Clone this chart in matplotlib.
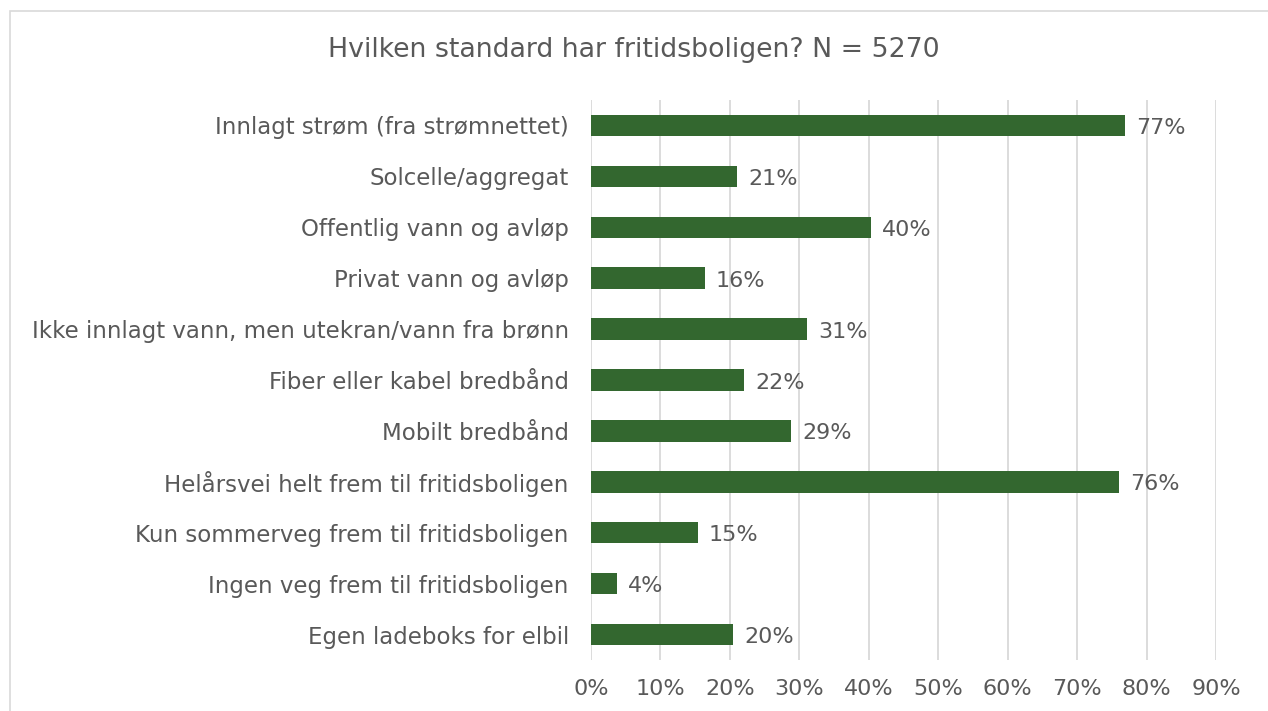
import matplotlib.pyplot as plt
from matplotlib.patches import Rectangle

categories = [
    "Innlagt strøm (fra strømnettet)",
    "Solcelle/aggregat",
    "Offentlig vann og avløp",
    "Privat vann og avløp",
    "Ikke innlagt vann, men utekran/vann fra brønn",
    "Fiber eller kabel bredbånd",
    "Mobilt bredbånd",
    "Helårsvei helt frem til fritidsboligen",
    "Kun sommerveg frem til fritidsboligen",
    "Ingen veg frem til fritidsboligen",
    "Egen ladeboks for elbil",
]
values = [0.769, 0.210, 0.403, 0.164, 0.311, 0.220, 0.288, 0.761, 0.154, 0.037, 0.205]
xticks = [0, 0.1, 0.2, 0.3, 0.4, 0.5, 0.6, 0.7, 0.8, 0.9]
title = "Hvilken standard har fritidsboligen? N = 5270"

plt.rcParams['font.family'] = ['DejaVu Sans']
textcol = '#595959'
barcol = '#33672F'

fig = plt.figure(figsize=(12.68, 7.11), dpi=100)
ax = fig.add_axes([591/1268, 1-660/711, 625/1268, 560/711])

y = list(range(len(categories)))
ax.barh(y, values, height=0.42, color=barcol, zorder=3)
for yi, v in zip(y, values):
    ax.text(v + 0.016, yi + 0.05, f"{round(v*100):.0f}%", va='center', ha='left',
            fontsize=16, color=textcol)

ax.set_xlim(0, 0.9)
ax.set_ylim(len(categories) - 0.5, -0.5)
ax.set_yticks(y)
ax.set_yticklabels(categories, fontsize=16.5, color=textcol)
ax.set_xticks(xticks)
ax.set_xticklabels([f"{round(t*100)}%" for t in xticks], fontsize=16, color=textcol)
ax.tick_params(axis='both', length=0)
ax.tick_params(axis='y', pad=16)
ax.tick_params(axis='x', pad=14)
ax.grid(axis='x', color='#d9d9d9', linewidth=1.3, zorder=0)
for s in ax.spines.values():
    s.set_visible(False)

fig.text(0.5, 1-50/711, title, ha='center', va='center', fontsize=19.3, color=textcol)
fig.patches.append(Rectangle((10/1268, -0.1), 1.2, 1.1 - 11/711, transform=fig.transFigure,
                             fill=False, edgecolor='#d9d9d9', linewidth=1.2))

fig.savefig('out.png', dpi=100)
